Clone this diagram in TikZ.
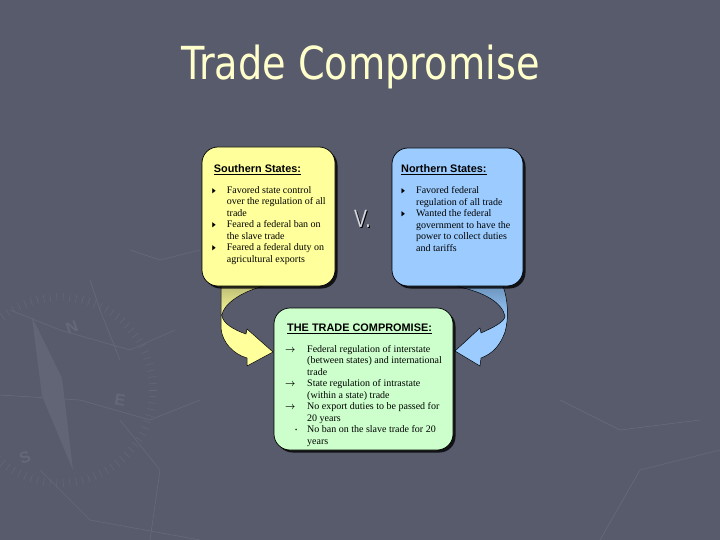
\documentclass[tikz,border=0pt]{standalone}
\usepackage{fontspec}
\usepackage{amssymb}
\setmainfont{Liberation Serif}
\newfontfamily\hsans{Liberation Sans}
\newfontfamily\titlefont{DejaVu Sans}
\usetikzlibrary{shadows}
\definecolor{bg}{RGB}{88,91,108}
\definecolor{bgl}{RGB}{101,104,121}
\definecolor{titlecol}{RGB}{255,255,204}
\definecolor{yel}{RGB}{255,255,156}
\definecolor{olivetop}{RGB}{190,190,118}
\definecolor{blu}{RGB}{156,204,255}
\definecolor{bluetop}{RGB}{108,148,190}
\definecolor{grn}{RGB}{204,255,204}
\definecolor{vgray}{RGB}{215,215,222}
\newcommand\tribul{\raisebox{0.3pt}{\scalebox{0.55}[0.9]{$\blacktriangleright$}}}
\newcommand\arrbul{\scalebox{0.9}[1]{$\boldsymbol{\rightarrow}$}}
\usepackage{amsmath}
\tikzset{
  box/.style={draw=black, line width=0.7pt, rounded corners=16pt, inner sep=0pt,
    drop shadow={shadow xshift=2.5pt, shadow yshift=-2.5pt, fill=black, opacity=0.8}},
  hd/.style={inner sep=0pt, anchor=base west, font=\hsans\bfseries\fontsize{10.9}{13}\selectfont},
  body/.style={inner sep=0pt, anchor=base west, font=\fontsize{10}{11.5}\selectfont},
  deco/.style={draw=bgl, line width=0.7pt},
  decotext/.style={text=bgl, inner sep=0pt, font=\hsans\bfseries\fontsize{16}{16}\selectfont}
}
\def\yarrowpath{(221,286) -- (221,328) .. controls (222,342) and (233,354) .. (247,358) -- (247,366) -- (273,352) -- (247,329) -- (246,334) .. controls (234,330) and (222,323) .. (222,315) .. controls (223,305) and (240,292) .. (264,286) -- cycle}
\def\barrowpath{(503,286) .. controls (508,300) and (509,318) .. (505,332) .. controls (500,346) and (492,354) .. (481,358) -- (480,366) -- (455,351) -- (480,328) -- (481,333) .. controls (492,328) and (505,322) .. (505,316) .. controls (502,303) and (485,292) .. (455,286) -- cycle}
\begin{document}
\begin{tikzpicture}[x=1pt,y=-1pt]
\useasboundingbox (0,0) rectangle (720,540);
\fill[bg] (0,0) rectangle (720,540);
% faint compass decoration
\foreach \a in {0,4,...,356} {
  \draw[deco, line width=0.5pt] ({60+97*cos(\a)},{390+97*sin(\a)}) -- ({60+89*cos(\a)},{390+89*sin(\a)});
}
\fill[bgl, opacity=0.8] (32,317) -- (62,378) -- (73,470) -- (42,396) -- cycle;
\draw[deco] (10,310) -- (60,330) -- (130,350) -- (175,330);
\draw[deco] (0,395) -- (80,400) -- (150,420) -- (200,400);
\draw[deco] (40,470) -- (90,520) -- (200,540);
\draw[deco] (120,420) -- (160,470) -- (150,540);
\draw[deco] (90,280) -- (100,310) -- (120,360);
\draw[deco] (600,540) -- (640,470) -- (720,450);
\draw[deco] (560,400) -- (620,430) -- (700,420);
\draw[deco] (130,250) -- (160,260) -- (200,250);
\node[decotext, rotate=20] (compN) at (72,327) {N};
\node[decotext, rotate=-10] (compE) at (120,400) {E};
\node[decotext, rotate=20] (compS) at (25,457) {S};
% title
\node[anchor=base, text=titlecol, inner sep=0pt] (title) at (360.5,79.5)
  {\scalebox{0.841}[1]{\titlefont\fontsize{45.5}{54}\selectfont Trade Compromise}};
% curved arrows
\begin{scope}
  \clip \yarrowpath;
  \shade[top color=olivetop, bottom color=yel] (215,286) rectangle (280,318);
  \fill[yel] (215,317.5) rectangle (280,370);
\end{scope}
\draw[black, line width=0.5pt] \yarrowpath;
\begin{scope}
  \clip \barrowpath;
  \shade[top color=bluetop, bottom color=blu] (450,286) rectangle (515,320);
  \fill[blu] (450,319.5) rectangle (515,370);
\end{scope}
\draw[black, line width=0.5pt] \barrowpath;
% boxes
\node[box, fill=yel, minimum width=133pt, minimum height=139pt] (south) at (268.5,216.5) {};
\node[box, fill=blu, minimum width=131pt, minimum height=138pt] (north) at (457.5,217) {};
\node[box, fill=grn, minimum width=179pt, minimum height=142pt] (comp) at (363.5,379) {};
% V.
\node[anchor=base west, inner sep=0pt, text=black] (vsshadow) at (355,228.3)
  {\scalebox{0.78}[1]{\hsans\fontsize{25}{25}\selectfont V.}};
\node[anchor=base west, inner sep=0pt, text=vgray] (vs) at (354,227.3)
  {\scalebox{0.78}[1]{\hsans\fontsize{25}{25}\selectfont V.}};
% southern text
\node[hd] (southhd) at (213.7,173) {\underline{Southern States:}};
\node[body] (southtx) at (211.7,193.5) {\begin{tabular}[t]{@{}p{15pt}@{}l@{}}
\tribul & Favored state control\\
 & over the regulation of all\\
 & trade\\
\tribul & Feared a federal ban on\\
 & the slave trade\\
\tribul & Feared a federal duty on\\
 & agricultural exports
\end{tabular}};
% northern text
\node[hd] (northhd) at (401,173) {\underline{Northern States:}};
\node[body] (northtx) at (401,194) {\begin{tabular}[t]{@{}p{15pt}@{}l@{}}
\tribul & Favored federal\\
 & regulation of all trade\\
\tribul & Wanted the federal\\
 & government to have the\\
 & power to collect duties\\
 & and tariffs
\end{tabular}};
% compromise text
\node[hd] (comphd) at (287,331.5) {\underline{THE TRADE COMPROMISE:}};
\node[body] (comptx) at (285,352) {\begin{tabular}[t]{@{}p{22pt}@{}l@{}}
\arrbul & Federal regulation of interstate\\
 & (between states) and international\\
 & trade\\
\arrbul & State regulation of intrastate\\
 & (within a state) trade\\
\arrbul & No export duties to be passed for\\
 & 20 years\\
\hspace*{9.5pt}$\boldsymbol{\cdot}$ & No ban on the slave trade for 20\\
 & years
\end{tabular}};
\end{tikzpicture}
\end{document}
